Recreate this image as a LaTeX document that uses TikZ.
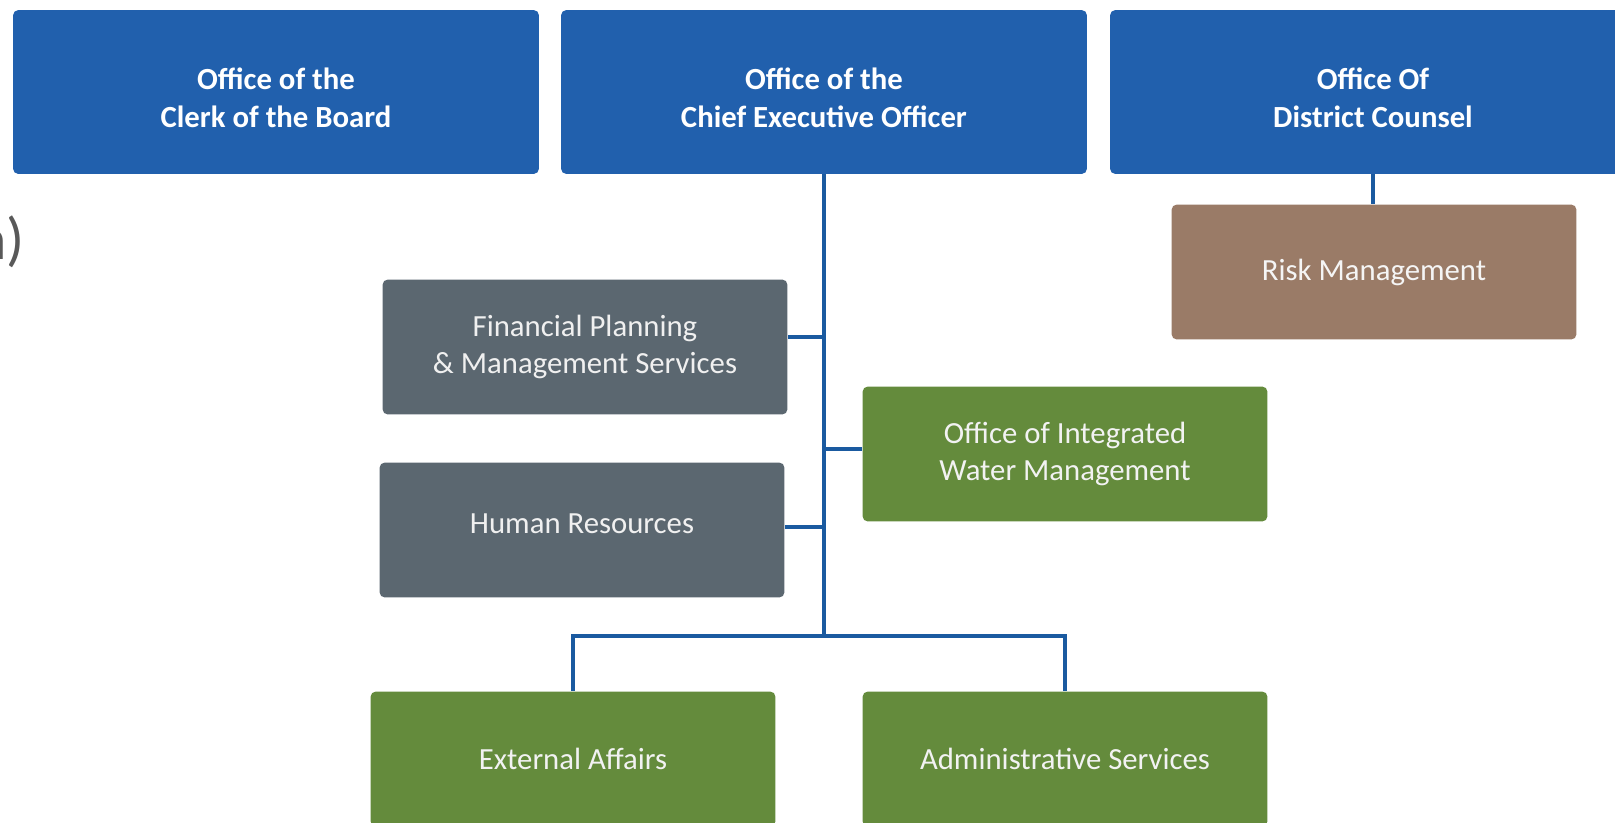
\documentclass[tikz,border=0pt]{standalone}
\usepackage{fontspec}
\setmainfont{Carlito}
\usepackage{tikz}
\definecolor{my_blue}{HTML}{2160AD}
\definecolor{my_line}{HTML}{1A5AA0}
\definecolor{my_slate}{HTML}{5B6770}
\definecolor{my_brown}{HTML}{9A7B67}
\definecolor{my_green}{HTML}{648B3C}
\definecolor{my_darkgray}{HTML}{595959}

\begin{document}
\begin{tikzpicture}[
    x=0.02cm, y=-0.02cm,
    box/.style={rounded corners=3pt, inner sep=0pt, align=center,
        minimum width=8.1cm, minimum height=2.7cm,
        font=\fontsize{17.5}{21.5}\selectfont},
    headbox/.style={box, fill=my_blue, text=white, text height=40.5pt,
        minimum width=10.52cm, minimum height=3.28cm,
        font=\fontsize{17.5}{21.5}\selectfont\bfseries},
    staffbox/.style={box, fill=my_slate, text=white!94!black},
    riskbox/.style={box, fill=my_brown, text=white!96!black},
    unitbox/.style={box, fill=my_green, text=white!95!black},
    link/.style={draw=my_line, line width=2.6pt}
]
\useasboundingbox (0, 0) rectangle (1615, 822);

% ---------------------------------------------------------------
%  Rest des abgeschnittenen Titels am linken Rand
% ---------------------------------------------------------------
\node[anchor=base east, text=my_darkgray, inner sep=0pt,
    font=\fontsize{34}{40}\selectfont] (titlerest) at (25, 259) {n)};

% Obere Reihe
\node[headbox] (clerk) at (276, 92) {Office of the\\Clerk of the Board};
\node[headbox] (ceo) at (824, 92) {Office of the\\Chief Executive Officer};
\node[headbox] (counsel) at (1373, 92) {Office Of\\District Counsel};

% Unter dem District Counsel
\node[riskbox] (risk) at (1374, 272) {Risk Management};

% Unter dem CEO
\node[staffbox] (finance) at (585, 347) {Financial Planning\\\& Management Services};
\node[staffbox, text depth=7pt] (hr) at (582, 530) {Human Resources};
\node[unitbox] (water) at (1065, 454) {Office of Integrated\\Water Management};
\node[unitbox] (external) at (573, 759) {External Affairs};
\node[unitbox] (admin) at (1065, 759) {Administrative Services};

% Verbindungen
\coordinate (split) at (824, 636);
\draw[link] (counsel.south) -- (counsel.south |- risk.north);
\draw[link] (ceo.south) -- (split);
\draw[link] ([yshift=0.2cm]finance.east) -- ([yshift=0.2cm]finance.east -| split);
\draw[link] ([yshift=0.1cm]water.west) -- ([yshift=0.1cm]water.west -| split);
\draw[link] ([yshift=0.06cm]hr.east) -- ([yshift=0.06cm]hr.east -| split);
\draw[link] (external.north) |- (split) -| (admin.north);

\end{tikzpicture}
\end{document}
